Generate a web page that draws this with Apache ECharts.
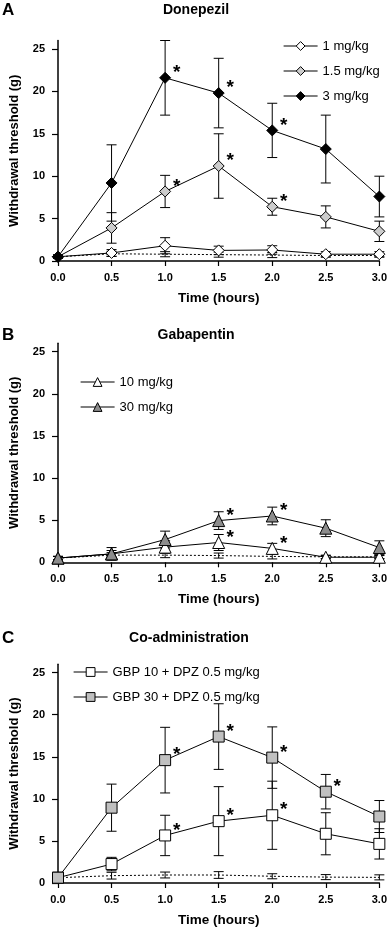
<!DOCTYPE html>
<html>
<head>
<meta charset="utf-8">
<script src="https://cdn.jsdelivr.net/npm/echarts@6/dist/echarts.min.js"></script>
<style>
  html, body { margin: 0; padding: 0; background: #fff; }
  #chart { width: 390px; height: 928px; }
</style>
</head>
<body>
<div id="chart"></div>
<script>
// shared axes
const hours = [0, 0.5, 1.0, 1.5, 2.0, 2.5, 3.0];
const yTickValues = [0, 5, 10, 15, 20, 25];

// A - Donepezil
const dpz1Mean = [0.5, 0.95, 1.8, 1.25, 1.3, 0.8, 0.8];
const dpz1Err = [0.2, 0.4, 0.95, 0.5, 0.5, 0.3, 0.3];
const dpz15Mean = [0.5, 3.9, 8.2, 11.2, 6.4, 5.2, 3.5];
const dpz15Err = [0.2, 1.8, 1.9, 3.8, 1.0, 1.3, 1.2];
const dpz3Mean = [0.5, 9.2, 21.6, 19.8, 15.4, 13.2, 7.6];
const dpz3Err = [0.2, 4.5, 4.4, 4.1, 3.2, 4.0, 2.4];
const vehAMean = [0.5, 0.85, 0.8, 0.75, 0.7, 0.65, 0.65];
const vehAErr = [0.2, 0.3, 0.3, 0.3, 0.3, 0.2, 0.2];
const dpz15Stars = [1.0, 1.5, 2.0];
const dpz3Stars = [1.0, 1.5, 2.0];

// B - Gabapentin
const gbp10Mean = [0.5, 1.0, 1.8, 2.35, 1.65, 0.6, 0.6];
const gbp10Err = [0.2, 0.4, 0.75, 0.95, 0.6, 0.2, 0.2];
const gbp30Mean = [0.5, 1.0, 2.7, 4.95, 5.5, 4.05, 1.75];
const gbp30Err = [0.2, 0.75, 1.0, 1.05, 1.05, 1.0, 0.8];
const vehBMean = [0.5, 0.85, 0.85, 0.8, 0.7, 0.65, 0.65];
const vehBErr = [0.2, 0.3, 0.3, 0.3, 0.3, 0.2, 0.2];
const gbp10Stars = [1.5, 2.0];
const gbp30Stars = [1.5, 2.0];

// C - Co-administration
const co10Mean = [0.63, 2.25, 5.65, 7.35, 8.05, 5.85, 4.65];
const co10Err = [0.2, 0.8, 2.4, 4.1, 4.05, 2.5, 1.8];
const co30Mean = [0.63, 8.95, 14.6, 17.4, 14.9, 10.85, 7.9];
const co30Err = [0.2, 2.8, 3.9, 3.9, 3.65, 2.05, 1.9];
const vehCMean = [0.63, 0.87, 0.95, 0.95, 0.8, 0.7, 0.67];
const vehCErr = [0.2, 0.4, 0.35, 0.4, 0.3, 0.3, 0.3];
const co10Stars = [1.0, 1.5, 2.0];
const co30Stars = [1.0, 1.5, 2.0, 2.5];

const FONT = '"Liberation Sans", Arial, sans-serif';

const chart = echarts.init(document.getElementById('chart'));

const errRender = (params, api) => {
  const x = api.value(0);
  const top = api.coord([x, api.value(2)]);
  const bot = api.coord([x, api.value(1)]);
  const w = 5;
  const st = { stroke: '#000', lineWidth: 1 };
  return {
    type: 'group',
    children: [
      { type: 'line', shape: { x1: top[0], y1: top[1], x2: bot[0], y2: bot[1] }, style: st },
      { type: 'line', shape: { x1: top[0] - w, y1: top[1], x2: top[0] + w, y2: top[1] }, style: st },
      { type: 'line', shape: { x1: bot[0] - w, y1: bot[1], x2: bot[0] + w, y2: bot[1] }, style: st }
    ]
  };
};

// asterisk up and to the right of the marker
const starRender = (params, api) => {
  const p = api.coord([api.value(0), api.value(1)]);
  return {
    type: 'text',
    style: {
      x: p[0] + 11.5, y: p[1] - 5, text: '*',
      font: 'bold 19px ' + FONT, fill: '#000',
      textAlign: 'center', textVerticalAlign: 'middle'
    }
  };
};

const errSeries = (idx, mean, err) => ({
  type: 'custom',
  xAxisIndex: idx, yAxisIndex: idx,
  renderItem: errRender,
  encode: { x: 0, y: [1, 2] },
  data: hours.map((h, i) => [h, mean[i] - err[i], mean[i] + err[i]]),
  z: 1, silent: true
});

const starSeries = (idx, mean, stars) => ({
  type: 'custom',
  xAxisIndex: idx, yAxisIndex: idx,
  renderItem: starRender,
  encode: { x: 0, y: 1 },
  data: stars.map(h => [h, mean[hours.indexOf(h)]]),
  z: 4, silent: true
});

const lineSeries = (idx, name, mean, symbol, size, fill) => ({
  type: 'line',
  name: name,
  xAxisIndex: idx, yAxisIndex: idx,
  data: hours.map((h, i) => [h, mean[i]]),
  symbol: symbol,
  symbolSize: size,
  showAllSymbol: true,
  itemStyle: { color: fill, borderColor: '#000', borderWidth: 1, opacity: 1 },
  lineStyle: { color: '#000', width: 1 },
  z: 3
});

const vehSeries = (idx, mean) => ({
  type: 'line',
  xAxisIndex: idx, yAxisIndex: idx,
  data: hours.map((h, i) => [h, mean[i]]),
  symbol: 'none',
  lineStyle: { color: '#000', width: 1, type: [2, 2] },
  z: 2
});

const grids = [
  { left: 52, width: 329, top: 40.5, height: 220.5 },
  { left: 52, width: 329, top: 343.3, height: 219 },
  { left: 52, width: 329, top: 664.2, height: 219.8 }
];

const xAxes = grids.map((g, i) => ({
  type: 'value', gridIndex: i, min: 0, max: 3, interval: 0.5,
  name: 'Time (hours)', nameLocation: 'middle', nameGap: 30,
  nameTextStyle: { color: '#000', fontFamily: FONT, fontWeight: 'bold', fontSize: 13.5 },
  axisLine: { lineStyle: { color: '#000', width: 1.5 } },
  axisTick: { length: 5, lineStyle: { color: '#000', width: 1.2 } },
  axisLabel: { color: '#000', fontFamily: FONT, fontWeight: 'bold', fontSize: 11, margin: 11,
    formatter: v => v.toFixed(1) },
  splitLine: { show: false }
}));

const yAxes = grids.map((g, i) => ({
  type: 'value', gridIndex: i, min: 0, max: 26,
  name: 'Withdrawal threshold (g)', nameLocation: 'middle', nameGap: 37,
  nameTextStyle: { color: '#000', fontFamily: FONT, fontWeight: 'bold', fontSize: 13 },
  axisLine: { show: true, lineStyle: { color: '#000', width: 1.5 } },
  axisTick: { show: true, length: 6, customValues: yTickValues, lineStyle: { color: '#000', width: 1.2 } },
  axisLabel: { color: '#000', fontFamily: FONT, fontWeight: 'bold', fontSize: 11, margin: 13,
    customValues: yTickValues },
  splitLine: { show: false }
}));

const legendBase = {
  orient: 'vertical', itemWidth: 34, itemHeight: 11, itemGap: 11, padding: 0,
  lineStyle: { color: '#000', width: 1.2 },
  itemStyle: { borderColor: '#000', borderWidth: 1 },
  textStyle: { color: '#000', fontFamily: FONT, fontSize: 13, lineHeight: 14 },
  selectedMode: false
};

const titleBase = { padding: 0, textStyle: { color: '#000', fontFamily: FONT, fontWeight: 'bold', fontSize: 14 } };
const letterBase = { padding: 0, textStyle: { color: '#000', fontFamily: FONT, fontWeight: 'bold', fontSize: 17 } };

chart.setOption({
  animation: false,
  backgroundColor: '#fff',
  title: [
    Object.assign({ text: 'A', left: 2, top: 2 }, letterBase),
    Object.assign({ text: 'Donepezil', left: 196, top: 3, textAlign: 'center' }, titleBase),
    Object.assign({ text: 'B', left: 2, top: 327 }, letterBase),
    Object.assign({ text: 'Gabapentin', left: 196, top: 328, textAlign: 'center' }, titleBase),
    Object.assign({ text: 'C', left: 2, top: 630 }, letterBase),
    Object.assign({ text: 'Co-administration', left: 189, top: 631, textAlign: 'center' }, titleBase)
  ],
  legend: [
    Object.assign({ left: 283, top: 39, data: ['1 mg/kg', '1.5 mg/kg', '3 mg/kg'] }, legendBase),
    Object.assign({ left: 80, top: 375, data: ['10 mg/kg', '30 mg/kg'] }, legendBase),
    Object.assign({ left: 73, top: 665, itemGap: 10, data: ['GBP 10 + DPZ 0.5 mg/kg', 'GBP 30 + DPZ 0.5 mg/kg'] }, legendBase)
  ],
  grid: grids,
  xAxis: xAxes,
  yAxis: yAxes,
  series: [
    // A
    vehSeries(0, vehAMean),
    errSeries(0, vehAMean, vehAErr),
    errSeries(0, dpz1Mean, dpz1Err),
    errSeries(0, dpz15Mean, dpz15Err),
    errSeries(0, dpz3Mean, dpz3Err),
    lineSeries(0, '1 mg/kg', dpz1Mean, 'diamond', 11, '#fff'),
    lineSeries(0, '1.5 mg/kg', dpz15Mean, 'diamond', 11, '#cccccc'),
    lineSeries(0, '3 mg/kg', dpz3Mean, 'diamond', 11, '#000'),
    starSeries(0, dpz15Mean, dpz15Stars),
    starSeries(0, dpz3Mean, dpz3Stars),
    // B
    vehSeries(1, vehBMean),
    errSeries(1, vehBMean, vehBErr),
    errSeries(1, gbp10Mean, gbp10Err),
    errSeries(1, gbp30Mean, gbp30Err),
    lineSeries(1, '10 mg/kg', gbp10Mean, 'triangle', 12, '#fff'),
    lineSeries(1, '30 mg/kg', gbp30Mean, 'triangle', 12, '#8c8c8c'),
    starSeries(1, gbp10Mean, gbp10Stars),
    starSeries(1, gbp30Mean, gbp30Stars),
    // C
    vehSeries(2, vehCMean),
    errSeries(2, vehCMean, vehCErr),
    errSeries(2, co10Mean, co10Err),
    errSeries(2, co30Mean, co30Err),
    lineSeries(2, 'GBP 10 + DPZ 0.5 mg/kg', co10Mean, 'rect', 11, '#fff'),
    lineSeries(2, 'GBP 30 + DPZ 0.5 mg/kg', co30Mean, 'rect', 11, '#c0c0c0'),
    starSeries(2, co10Mean, co10Stars),
    starSeries(2, co30Mean, co30Stars)
  ]
});

window.addEventListener('resize', () => chart.resize());
</script>
</body>
</html>
